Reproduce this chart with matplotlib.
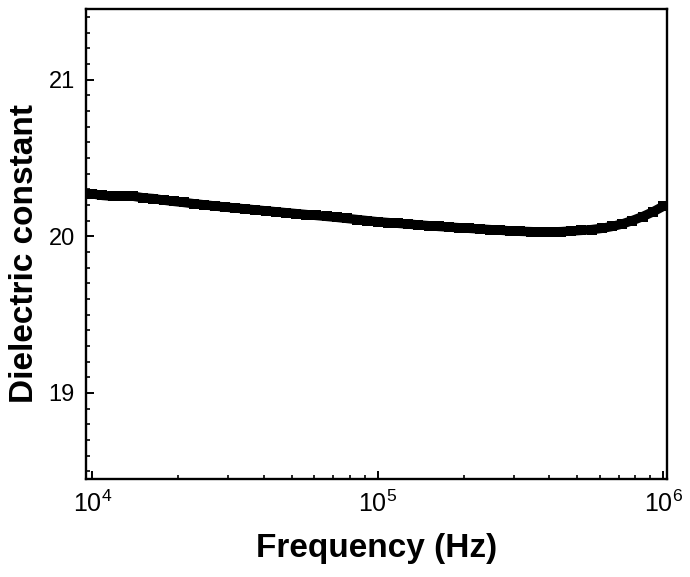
import numpy as np
import matplotlib
matplotlib.use('Agg')
import matplotlib.pyplot as plt
from matplotlib.ticker import MultipleLocator, LogLocator, NullFormatter

plt.rcParams['font.family'] = ['Liberation Sans', 'DejaVu Sans']

# frequency (Hz) and dielectric constant
freq = [10000, 10860, 11790, 12800, 13900, 15090, 16380, 17780, 19310, 20970,
        22760, 24710, 26830, 29130, 31620, 34330, 37280, 40470, 43940, 47710,
        51790, 56230, 61050, 66290, 71970, 78140, 84830, 92100, 100000,
        108600, 117900, 128000, 139000, 150900, 163800, 177800, 193100, 209700,
        227600, 247100, 268300, 291300, 316200, 343300, 372800, 404700, 439400,
        477100, 517900, 562300, 610500, 662900, 719700, 781400, 848300, 921000,
        1000000]
eps = [20.27, 20.26, 20.255, 20.255, 20.255, 20.245, 20.24, 20.23, 20.222, 20.215,
       20.207, 20.2, 20.193, 20.186, 20.18, 20.174, 20.168, 20.162, 20.156, 20.15,
       20.144, 20.138, 20.132, 20.126, 20.12, 20.113, 20.106, 20.099, 20.092,
       20.087, 20.082, 20.077, 20.072, 20.067, 20.062, 20.058, 20.054, 20.05,
       20.046, 20.042, 20.038, 20.034, 20.031, 20.029, 20.027, 20.027, 20.029,
       20.033, 20.037, 20.042, 20.05, 20.062, 20.078, 20.1, 20.125, 20.155,
       20.19]

fig = plt.figure(figsize=(6.9, 5.77), dpi=100)
ax = fig.add_axes([0.1246, 0.1698, 0.8421, 0.8146])

ax.plot(freq, eps, '-s', color='black', lw=6.8, markersize=7.4,
        markeredgewidth=0, solid_capstyle='butt')

ax.set_xscale('log')
ax.set_xlim(10**3.978, 10**6.014)
ax.set_ylim(18.45, 21.45)

ax.yaxis.set_major_locator(MultipleLocator(1))
ax.yaxis.set_minor_locator(MultipleLocator(0.1))
ax.xaxis.set_minor_locator(LogLocator(base=10, subs=np.arange(2, 10)))
ax.xaxis.set_minor_formatter(NullFormatter())

ax.tick_params(which='both', direction='in', top=False, right=False)
ax.tick_params(which='major', length=6, width=1.4, pad=8)
ax.tick_params(which='minor', length=3, width=1.2)
ax.tick_params(axis='y', labelsize=17)
ax.tick_params(axis='x', labelsize=18)

for s in ax.spines.values():
    s.set_linewidth(1.7)

ax.set_xlabel('Frequency (Hz)', fontsize=24, fontweight='bold')
ax.set_ylabel('Dielectric constant', fontsize=24, fontweight='bold')
ax.xaxis.set_label_coords(0.5, -0.115)
ax.yaxis.set_label_coords(-0.079, 0.48)

fig.savefig('out.png', dpi=100)
